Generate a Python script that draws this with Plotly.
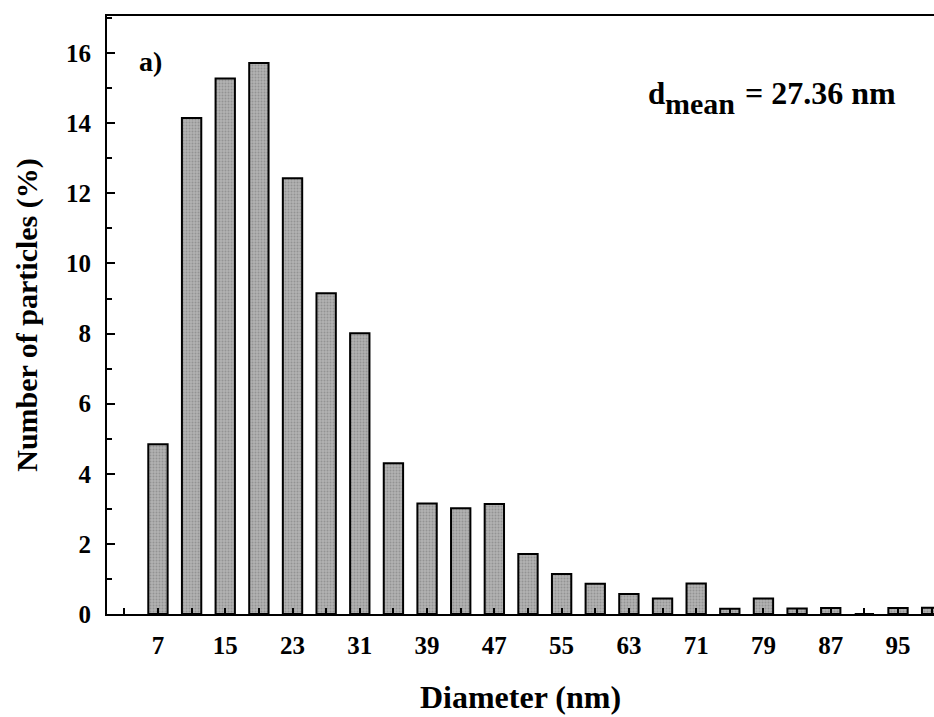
import plotly.graph_objects as go

# Data
diameter_nm = [7, 11, 15, 19, 23, 27, 31, 35, 39, 43, 47, 51, 55, 59, 63, 67, 71, 75, 79, 83, 87, 91, 95, 99]
particles_pct = [4.84, 14.15, 15.28, 15.72, 12.43, 9.15, 8.01, 4.30, 3.15, 3.02, 3.14, 1.71, 1.14, 0.86,
                 0.57, 0.44, 0.87, 0.15, 0.44, 0.16, 0.17, 0.0, 0.17, 0.18]
x_tick_labels = [7, 15, 23, 31, 39, 47, 55, 63, 71, 79, 87, 95]
y_tick_labels = [0, 2, 4, 6, 8, 10, 12, 14, 16]

FONT = "Liberation Serif"

fig = go.Figure()
fig.add_trace(go.Bar(
    x=diameter_nm,
    y=particles_pct,
    width=2.3,
    marker=dict(
        color="#a0a0a0",
        line=dict(color="black", width=2),
        pattern=dict(shape=".", fgcolor="#737373", bgcolor="#b2b2b2", size=3, solidity=0.35),
    ),
    hoverinfo="x+y",
))

fig.update_layout(
    width=934, height=717,
    margin=dict(l=107, r=0, t=16, b=103),
    plot_bgcolor="white", paper_bgcolor="white",
    showlegend=False,
    font=dict(family=FONT, color="black"),
)

fig.update_xaxes(
    range=[0.94, 99.28],
    tickmode="array", tickvals=x_tick_labels, ticktext=[str(v) for v in x_tick_labels],
    ticks="inside", ticklen=6, tickwidth=1.5, tickcolor="black",
    minor=dict(tickmode="linear", tick0=3, dtick=4, ticks="inside", ticklen=6, tickwidth=1.5, tickcolor="black"),
    showline=True, linecolor="black", linewidth=2, mirror=True,
    showgrid=False, zeroline=False,
    tickfont=dict(family=FONT, size=25, weight="bold"),
    ticklabelstandoff=8,
    title=dict(text="Diameter (nm)", font=dict(family=FONT, size=32, weight="bold"), standoff=28),
)

fig.update_yaxes(
    range=[0, 17.06],
    tickmode="array", tickvals=y_tick_labels, ticktext=[str(v) for v in y_tick_labels],
    ticks="inside", ticklen=8, tickwidth=1.5, tickcolor="black",
    minor=dict(tickmode="linear", tick0=1, dtick=2, ticks="inside", ticklen=5, tickwidth=1.5, tickcolor="black"),
    showline=True, linecolor="black", linewidth=2, mirror=False,
    showgrid=False, zeroline=False,
    tickfont=dict(family=FONT, size=25, weight="bold"),
    ticklabelstandoff=9,
    title=dict(text="Number of particles (%)", font=dict(family=FONT, size=30, weight="bold"), standoff=20),
)

# panel label
fig.add_annotation(text="a)", xref="paper", yref="paper", x=(137 - 107) / 827, y=1 - (61 - 16) / 598,
                   xanchor="left", yanchor="middle", showarrow=False,
                   font=dict(family=FONT, size=28, weight="bold"))
# d_mean label (subscript drawn at full size, lowered)
fig.add_annotation(text="d", xref="paper", yref="paper", x=(646 - 107) / 827, y=1 - (93 - 16) / 598,
                   xanchor="left", yanchor="middle", showarrow=False,
                   font=dict(family=FONT, size=31, weight="bold"))
fig.add_annotation(text="mean", xref="paper", yref="paper", x=(663 - 107) / 827, y=1 - (103 - 16) / 598,
                   xanchor="left", yanchor="middle", showarrow=False,
                   font=dict(family=FONT, size=30, weight="bold"))
fig.add_annotation(text="= 27.36 nm", xref="paper", yref="paper", x=(743 - 107) / 827, y=1 - (93 - 16) / 598,
                   xanchor="left", yanchor="middle", showarrow=False,
                   font=dict(family=FONT, size=32, weight="bold"))

fig.write_html("out.html",
               config={"displayModeBar": False},
               post_script="document.body.style.margin='0';document.body.style.padding='0';"
                           "document.documentElement.style.overflow='hidden';document.body.style.overflow='hidden';")
